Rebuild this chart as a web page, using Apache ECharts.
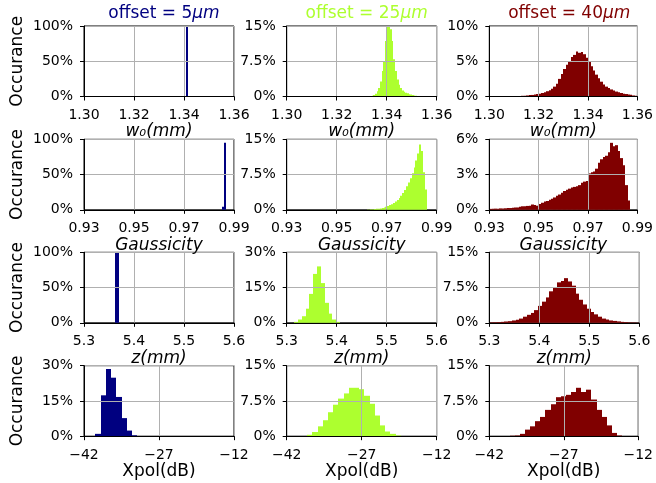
<!DOCTYPE html>
<html><head><meta charset="utf-8">
<script src="https://cdn.jsdelivr.net/npm/echarts@6/dist/echarts.min.js"></script>
<style>html,body{margin:0;padding:0;background:#fff}#c{width:656px;height:483px}</style>
</head><body><div id="c"></div>
<script>
// ---- labels / ticks ----
const offsetLabels = ['5', '25', '40'];
const xNames = ['w₀(mm)', 'Gaussicity', 'z(mm)', 'Xpol(dB)'];
const xTicks = [[1.30, 1.32, 1.34, 1.36], [0.93, 0.95, 0.97, 0.99], [5.3, 5.4, 5.5, 5.6], [-42, -27, -12]];
const yTicksRow0 = [[0, 50, 100], [0, 7.5, 15], [0, 5, 10]];
const yTicksRow1 = [[0, 50, 100], [0, 7.5, 15], [0, 3, 6]];
const yTicksRow2 = [[0, 50, 100], [0, 15, 30], [0, 7.5, 15]];
const yTicksRow3 = [[0, 15, 30], [0, 7.5, 15], [0, 7.5, 15]];

// ---- histogram data: [first bin edge, bin width] and bin values (%) ----
const w0_off5_bins = [1.3410, 0.0008];
const w0_off5 = [100];
const w0_off25_bins = [1.3340, 0.00067];
const w0_off25 = [0.15, 0.3, 0.6, 1.1, 1.8, 3.2, 5.4, 7.5, 11.8, 14.9, 14.9, 14.3, 11.8, 7.9, 5.4, 3.6, 2.5, 1.8, 1.3, 1.0, 0.8, 0.7, 0.5, 0.4, 0.3, 0.2, 0.15, 0.1];
const w0_off40_bins = [1.3100, 0.001];
const w0_off40 = [0.05, 0.05, 0.08, 0.1, 0.12, 0.15, 0.2, 0.22, 0.3, 0.35, 0.4, 0.5, 0.6, 0.75, 0.9, 1.1, 1.4, 1.8, 2.5, 3.2, 3.9, 4.5, 5.0, 5.6, 5.9, 6.4, 6.2, 6.3, 6.0, 5.5, 5.0, 4.3, 3.7, 3.1, 2.6, 2.1, 1.7, 1.4, 1.2, 1.0, 0.85, 0.7, 0.6, 0.5, 0.4, 0.35, 0.3, 0.25, 0.15, 0.1];

const gauss_off5_bins = [0.9851, 0.0009];
const gauss_off5 = [4.5, 95];
const gauss_off25_bins = [0.9620, 0.00075];
const gauss_off25 = [0.05, 0.08, 0.1, 0.12, 0.15, 0.2, 0.25, 0.3, 0.4, 0.5, 0.65, 0.8, 1.0, 1.2, 1.45, 1.75, 2.1, 2.5, 3.0, 3.6, 4.2, 5.0, 5.8, 6.7, 7.8, 9.0, 10.5, 12.0, 13.9, 12.5, 8.0, 4.3];
const gauss_off40_bins = [0.9300, 0.001];
const gauss_off40 = [0.08, 0.1, 0.1, 0.1, 0.12, 0.12, 0.13, 0.15, 0.15, 0.18, 0.2, 0.2, 0.25, 0.3, 0.3, 0.33, 0.35, 0.45, 0.4, 0.35, 0.5, 0.6, 0.7, 0.75, 0.85, 0.95, 1.05, 1.2, 1.3, 1.45, 1.6, 1.7, 1.8, 1.9, 1.95, 2.0, 2.1, 2.3, 2.4, 2.45, 3.1, 3.2, 3.25, 3.5, 4.0, 4.3, 4.5, 4.6, 4.9, 5.7, 5.4, 5.5, 5.0, 4.4, 3.8, 2.1, 0.8];

const z_off5_bins = [5.362, 0.007];
const z_off5 = [100];
const z_off25_bins = [5.3145, 0.0077];
const z_off25 = [0.4, 1.4, 2.8, 6.0, 12.3, 20.8, 24.0, 16.9, 8.5, 3.9, 1.4, 0.4];
const z_off40_bins = [5.300, 0.0075];
const z_off40 = [0.1, 0.12, 0.15, 0.2, 0.28, 0.35, 0.5, 0.65, 0.9, 1.3, 1.7, 2.1, 2.7, 3.6, 4.5, 5.4, 6.7, 7.5, 8.6, 8.9, 9.5, 8.8, 7.9, 6.2, 4.9, 3.9, 3.0, 2.3, 1.8, 1.3, 0.9, 0.7, 0.5, 0.4, 0.3, 0.2, 0.15, 0.1, 0.08, 0.05];

const xpol_off5_bins = [-39.75, 1.05];
const xpol_off5 = [1.0, 17.4, 28.6, 24.9, 16.7, 7.7, 2.4, 0.4];
const xpol_off25_bins = [-37.9, 1.04];
const xpol_off25 = [0.3, 0.9, 2.1, 3.4, 5.1, 6.7, 8.0, 9.1, 10.3, 10.3, 10.0, 8.6, 6.9, 4.4, 2.3, 1.0, 0.5, 0.15];
const xpol_off40_bins = [-37.9, 1.03];
const xpol_off40 = [0.1, 0.15, 0.5, 1.4, 2.1, 3.2, 4.1, 5.6, 6.8, 8.3, 8.5, 8.8, 9.4, 10.3, 9.4, 9.9, 7.8, 5.6, 4.1, 2.3, 0.7, 0.15];

// ---- assembly ----
const binsGrid = [
  [w0_off5_bins, w0_off25_bins, w0_off40_bins],
  [gauss_off5_bins, gauss_off25_bins, gauss_off40_bins],
  [z_off5_bins, z_off25_bins, z_off40_bins],
  [xpol_off5_bins, xpol_off25_bins, xpol_off40_bins]
];
const valsGrid = [
  [w0_off5, w0_off25, w0_off40],
  [gauss_off5, gauss_off25, gauss_off40],
  [z_off5, z_off25, z_off40],
  [xpol_off5, xpol_off25, xpol_off40]
];
const yTicksGrid = [yTicksRow0, yTicksRow1, yTicksRow2, yTicksRow3];

const colors = ['#000080', '#adff2f', '#800000'];
const FONT = 'DejaVu Sans';
const lefts = [84, 286.7, 489.3];
const tops = [26, 139.3, 252.3, 365.7];
const W = 150, H = 70.5;
const xDecimals = [2, 2, 1, 0];

const grids = [], xAxes = [], yAxes = [], series = [], titles = [];
for (let j = 0; j < 3; j++) {
  titles.push({
    text: '{n|offset = ' + offsetLabels[j] + '}{i|μm}',
    left: lefts[j] + W / 2, top: 0, textAlign: 'center',
    textStyle: {
      fontWeight: 'normal',
      rich: {
        n: { fontFamily: FONT, fontSize: 17, fontWeight: 'normal', color: colors[j] },
        i: { fontFamily: FONT, fontSize: 17, fontWeight: 'normal', fontStyle: 'italic', color: colors[j] }
      }
    }
  });
}
let k = 0;
for (let r = 0; r < 4; r++) {
  for (let j = 0; j < 3; j++) {
    grids.push({ left: lefts[j], top: tops[r], width: W, height: H, show: true, borderColor: '#000', borderWidth: 1, containLabel: false });
    const xt = xTicks[r];
    const yt = yTicksGrid[r][j];
    const dec = xDecimals[r];
    xAxes.push({
      type: 'value', gridIndex: k, min: xt[0], max: xt[xt.length - 1], z: 3,
      name: xNames[r], nameLocation: 'middle', nameGap: 27,
      nameTextStyle: { fontFamily: FONT, fontSize: 17, color: '#000', fontStyle: r < 3 ? 'italic' : 'normal' },
      axisLine: { show: true, onZero: false, lineStyle: { color: '#000', width: 1 } },
      axisTick: { show: true, inside: false, length: 4, customValues: xt, lineStyle: { color: '#000' } },
      axisLabel: { customValues: xt, fontFamily: FONT, fontSize: 14, color: '#000', margin: 12,
        formatter: v => v.toFixed(dec).replace('-', '\u2212') },
      splitLine: { show: true, lineStyle: { color: '#b0b0b0', width: 1 } }
    });
    yAxes.push({
      type: 'value', gridIndex: k, min: yt[0], max: yt[yt.length - 1], z: 3,
      name: j === 0 ? 'Occurance' : '', nameLocation: 'middle', nameGap: 58, nameRotate: 90,
      nameTextStyle: { fontFamily: FONT, fontSize: 17, color: '#000' },
      axisLine: { show: true, onZero: false, lineStyle: { color: '#000', width: 1 } },
      axisTick: { show: true, inside: false, length: 4, customValues: yt, lineStyle: { color: '#000' } },
      axisLabel: { customValues: yt, fontFamily: FONT, fontSize: 14, color: '#000', margin: 11,
        formatter: v => v + '%' },
      splitLine: { show: true, lineStyle: { color: '#b0b0b0', width: 1 } }
    });
    const b = binsGrid[r][j];
    const vals = valsGrid[r][j];
    const data = vals.map((v, i) => [b[0] + i * b[1], b[0] + (i + 1) * b[1], v]);
    const col = colors[j];
    series.push({
      type: 'custom', xAxisIndex: k, yAxisIndex: k, z: 2, silent: true, animation: false,
      encode: { x: [0, 1], y: 2 },
      data: data,
      renderItem: (params, api) => {
        const p0 = api.coord([api.value(0), api.value(2)]);
        const p1 = api.coord([api.value(1), 0]);
        const x0 = Math.round(p0[0]);
        let x1 = Math.round(p1[0]);
        if (x1 <= x0) x1 = x0 + 1;
        return { type: 'rect', shape: { x: x0, y: p0[1], width: x1 - x0, height: p1[1] - p0[1] },
          style: { fill: col } };
      }
    });
    k++;
  }
}

const chart = echarts.init(document.getElementById('c'), null, { renderer: 'canvas' });
chart.setOption({
  animation: false,
  backgroundColor: '#fff',
  title: titles,
  grid: grids, xAxis: xAxes, yAxis: yAxes, series: series
});
</script></body></html>
